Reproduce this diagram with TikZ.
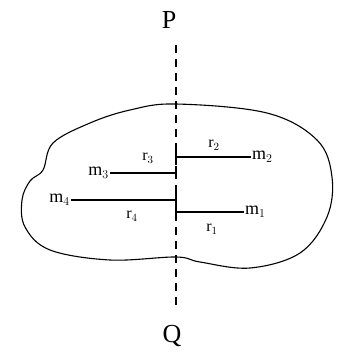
\documentclass[tikz,border=0pt]{standalone}
\usepackage{fontspec}
\setmainfont{Liberation Serif}
\usetikzlibrary{positioning}

\tikzset{
  axisline/.style={dash pattern=on 8pt off 6pt, line width=1.1pt},
  arm/.style={line width=1.1pt},
  mass/.style={inner sep=1pt, font=\fontsize{18}{18}\selectfont},
  dist/.style={inner sep=1pt, font=\fontsize{16}{16}\selectfont}
}

\begin{document}
\begin{tikzpicture}[x=1pt, y=-1pt]
\useasboundingbox (0,0) rectangle (352,362);

% end labels of the axis
\node[font=\fontsize{26}{26}\selectfont] (P) at (169,20) {P};
\node[font=\fontsize{26}{26}\selectfont] (Q) at (172,336) {Q};

% body outline
\draw[line width=1.1pt] plot[smooth cycle, tension=0.6] coordinates {
  (176,104) (267,113) (317,140) (332,177) (327,217) (300,253)
  (250,268) (200,262) (176,257) (110,260) (50,250) (25,227)
  (22,200) (30,181) (43,170) (53,143) (90,123) (130,110)};

% axis PQ
\draw[axisline] (176,45) -- (176,305);

% points on the axis
\coordinate (a2) at (176,157);
\coordinate (a3) at (176,173);
\coordinate (a4) at (176,200);
\coordinate (a1) at (176,212);

% masses
\node[mass, anchor=west] (m2) at (251,157) {m$_2$};
\node[mass, anchor=east] (m3) at (110,173) {m$_3$};
\node[mass, anchor=east] (m4) at (71,200) {m$_4$};
\node[mass, anchor=west] (m1) at (244,212) {m$_1$};

% arms
\draw[arm] (a2) -- (m2.west);
\draw[arm] (a3) -- (m3.east);
\draw[arm] (a4) -- (m4.east);
\draw[arm] (a1) -- (m1.west);

% little solid marks on the axis
\draw[arm] (176,150) -- (176,160);
\draw[arm] (176,166) -- (176,176);
\draw[arm] (176,193) -- (176,203);
\draw[arm] (176,206) -- (176,216);

% distances
\node[dist] (r2) at (214,145) {r$_2$};
\node[dist] (r3) at (148,158) {r$_3$};
\node[dist] (r4) at (132,216) {r$_4$};
\node[dist] (r1) at (212,229) {r$_1$};

\end{tikzpicture}
\end{document}
